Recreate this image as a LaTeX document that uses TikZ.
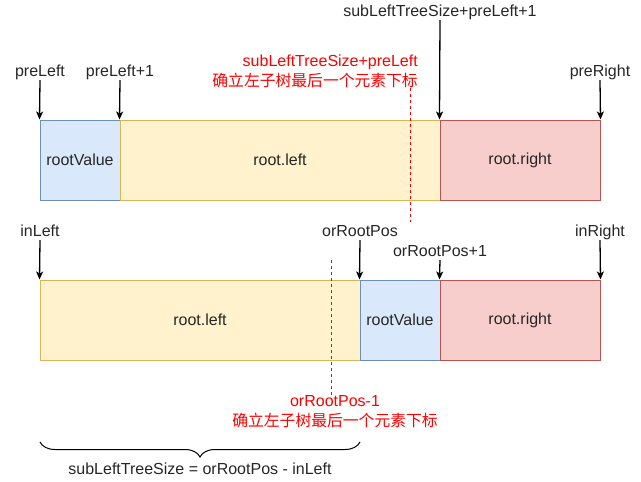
\documentclass[tikz,border=0pt]{standalone}
\usepackage{fontspec}
\setmainfont{Liberation Sans}
\newfontfamily\cjk{Noto Sans CJK SC}
\usepackage{tikz}
\usetikzlibrary{arrows.meta}
\usetikzlibrary{decorations.pathreplacing}
\usetikzlibrary{positioning}
\definecolor{rvfill}{HTML}{DAE8FC}\definecolor{rvline}{HTML}{6C8EBF}
\definecolor{lffill}{HTML}{FFF2CC}\definecolor{lfline}{HTML}{D6B656}
\definecolor{rtfill}{HTML}{F8CECC}\definecolor{rtline}{HTML}{B85450}
\definecolor{note}{HTML}{FF0000}
\tikzset{cell/.style={rectangle,draw,line width=1pt,minimum height=80pt,inner sep=0pt,font=\fontsize{16pt}{18pt}\selectfont,text=black!85}}
\tikzset{rvcell/.style={cell,fill=rvfill,draw=rvline,minimum width=80pt}}
\tikzset{lfcell/.style={cell,fill=lffill,draw=lfline,minimum width=320pt}}
\tikzset{rtcell/.style={cell,fill=rtfill,draw=rtline,minimum width=160pt}}
\tikzset{idx/.style={anchor=base,inner sep=0.5pt,text depth=3pt,font=\fontsize{16pt}{18pt}\selectfont,text=black!85}}
\tikzset{rednote/.style={inner sep=0pt,text=note,font=\fontsize{16pt}{20pt}\selectfont}}
\tikzset{ptr/.style={-{Stealth[length=8pt,width=7pt,inset=2pt]},line width=1.3pt}}
\tikzset{guide/.style={draw=note,line width=1pt,dash pattern=on 3pt off 3pt}}

\begin{document}
\begin{tikzpicture}[x=1pt,y=-1pt]
    \useasboundingbox (0,0) rectangle (641,482);
    % preorder row
    \node[rvcell] (pRV) at (80,160) {rootValue};
    \node[lfcell] (pLF) at (280,160) {root.left};
    \node[rtcell] (pRT) at (520,160) {root.right};
    \node[idx] (preL) at (40,76.5) {preLeft};
    \node[idx] (preL1) at (120,76.5) {preLeft+1};
    \node[idx] (preS1) at (440,16.5) {subLeftTreeSize+preLeft+1};
    \node[idx] (preR) at (600,76.5) {preRight};
    \draw[ptr] (preL.south) -- (pRV.north west);
    \draw[ptr] (preL1.south) -- (pLF.north west);
    \draw[ptr] (preS1.south) -- (pRT.north west);
    \draw[ptr] (preR.south) -- (pRT.north east);
    \node[rednote, align=right, anchor=east] (preNote) at (418,71)
        {subLeftTreeSize+preLeft\\{\cjk\fontsize{15.8pt}{20pt}\selectfont 确立左子树最后一个元素下标}};
    \coordinate (preCut) at (410,222);
    \draw[guide] (preCut |- preNote.south) -- (preCut);
    % inorder row
    \node[lfcell] (iLF) at (200,320) {root.left};
    \node[rvcell] (iRV) at (400,320) {rootValue};
    \node[rtcell] (iRT) at (520,320) {root.right};
    \node[idx] (inL) at (40,236.5) {inLeft};
    \node[idx] (orP) at (360,236.5) {orRootPos};
    \node[idx] (orP1) at (440,256.5) {orRootPos+1};
    \node[idx] (inR) at (600,236.5) {inRight};
    \draw[ptr] (inL.south) -- (iLF.north west);
    \draw[ptr] (orP.south) -- (iRV.north west);
    \draw[ptr] (orP1.south) -- (iRT.north west);
    \draw[ptr] (inR.south) -- (iRT.north east);
    \node[rednote, align=center] (inNote) at (335,411.5)
        {orRootPos-1\\{\cjk\fontsize{15.8pt}{20pt}\selectfont 确立左子树最后一个元素下标}};
    \coordinate (inCut) at (331,260);
    \draw[guide] (inCut) -- (inCut |- inNote.north);
    % size of the left subtree
    \coordinate (brL) at (40,442);
    \coordinate (brR) at (360,442);
    \draw[line width=1pt, decorate, decoration={brace, mirror, amplitude=15pt}] (brL) -- (brR)
        node[midway, below=20pt, idx, anchor=north] (sizeEq) {subLeftTreeSize = orRootPos - inLeft};
\end{tikzpicture}
\end{document}
